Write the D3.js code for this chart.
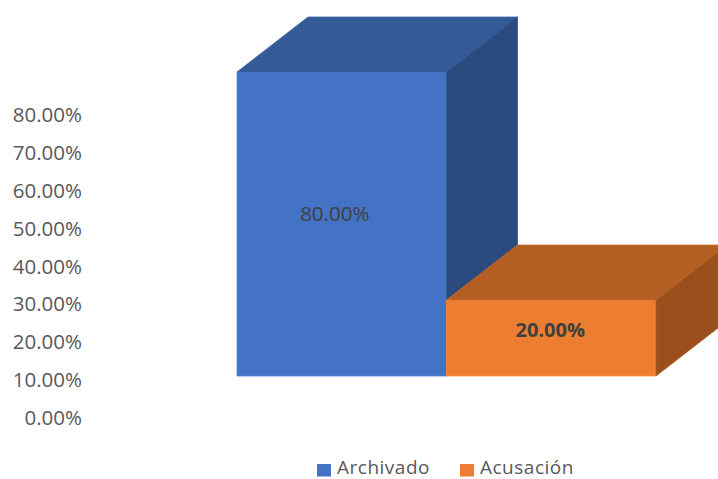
<!DOCTYPE html>
<html>
<head>
<meta charset="utf-8">
<script src="https://cdn.jsdelivr.net/npm/d3@7"></script>
<style>
  body { margin: 0; background: #fff; }
  svg text { font-family: "Open Sans", "Liberation Sans", sans-serif; }
</style>
</head>
<body>
<svg id="chart" width="718" height="479"></svg>
<script>
// data
var categories = ["Archivado", "Acusación"];
var values = [0.80, 0.20];
var tickValues = [0, 0.1, 0.2, 0.3, 0.4, 0.5, 0.6, 0.7, 0.8];
var frontColors = ["#4472C4", "#ED7D31"];
var topColors = ["#345A97", "#B35E22"];
var sideColors = ["#2B4A7E", "#9A4F1D"];

var width = 718, height = 479;
var depthX = 71, depthY = -55; // 3d offset of the back face

var svg = d3.select("#chart");

// bar scales (front face)
var x = d3.scaleBand()
    .domain(categories)
    .range([237, 656])
    .paddingInner(0)
    .paddingOuter(0);

var y = d3.scaleLinear()
    .domain([0, 0.8])
    .range([376, 72]);

// axis sits on the back wall, shifted down a bit
var yAxisScale = d3.scaleLinear()
    .domain([0, 0.8])
    .range([418, 115]);

var fmt = function(d) { return (d * 100).toFixed(2) + "%"; };

// y axis labels
var yAxis = svg.append("g")
    .attr("class", "yaxis")
    .attr("transform", "translate(82,0)")
    .call(d3.axisLeft(yAxisScale)
        .tickValues(tickValues)
        .tickFormat(fmt)
        .tickSize(0)
        .tickPadding(0));
yAxis.select(".domain").remove();
yAxis.selectAll("text")
    .attr("fill", "#595959")
    .style("font-size", "20.5px")
    .style("font-family", "'Open Sans', sans-serif");

var data = categories.map(function(c, i) { return { cat: c, value: values[i], i: i }; });

var bars = svg.selectAll("g.bar")
    .data(data)
    .enter()
    .append("g")
      .attr("class", "bar");

function pts(arr) { return arr.map(function(p) { return p.join(","); }).join(" "); }

// front face
bars.append("polygon")
    .attr("points", function(d) {
        var x0 = x(d.cat), x1 = x(d.cat) + x.bandwidth();
        return pts([[x0, y(d.value)], [x1, y(d.value)], [x1, y(0)], [x0, y(0)]]);
    })
    .attr("fill", function(d) { return frontColors[d.i]; })
    .attr("stroke", function(d) { return d3.color(frontColors[d.i]).brighter(0.4); })
    .attr("stroke-width", 0.8);

// top face
bars.append("polygon")
    .attr("points", function(d) {
        var x0 = x(d.cat), x1 = x(d.cat) + x.bandwidth(), yt = y(d.value);
        return pts([[x0, yt], [x1, yt], [x1 + depthX, yt + depthY], [x0 + depthX, yt + depthY]]);
    })
    .attr("fill", function(d) { return topColors[d.i]; })
    .attr("stroke", function(d) { return d3.color(topColors[d.i]).brighter(0.4); })
    .attr("stroke-width", 0.8);

// side face
bars.append("polygon")
    .attr("points", function(d) {
        var x1 = x(d.cat) + x.bandwidth(), yt = y(d.value), yb = y(0);
        return pts([[x1, yt], [x1 + depthX, yt + depthY], [x1 + depthX, yb + depthY], [x1, yb]]);
    })
    .attr("fill", function(d) { return sideColors[d.i]; })
    .attr("stroke", function(d) { return d3.color(sideColors[d.i]).brighter(0.4); })
    .attr("stroke-width", 0.8);

// value labels
bars.append("text")
    .attr("x", function(d) { return x(d.cat) + x.bandwidth() / 2 - (d.i == 0 ? 7 : 1); })
    .attr("y", function(d) { return d.i == 0 ? y(d.value) + 141 : (y(d.value) + y(0)) / 2 - 9; })
    .attr("text-anchor", "middle")
    .attr("dominant-baseline", "central")
    .attr("fill", "#404040")
    .style("font-size", function(d) { return d.i == 1 ? "20px" : "20.5px"; })
    .style("font-weight", function(d) { return d.i == 1 ? "bold" : "normal"; })
    .text(function(d) { return fmt(d.value); });

// legend
var legend = svg.append("g")
    .attr("class", "legend")
    .attr("transform", "translate(317,473.5)");

var legendX = [0, 143];
var items = legend.selectAll("g")
    .data(categories)
    .enter()
    .append("g")
      .attr("transform", function(d, i) { return "translate(" + legendX[i] + ",0)"; });

items.append("rect")
    .attr("x", 0)
    .attr("y", -9.5)
    .attr("width", 14)
    .attr("height", 12.5)
    .attr("fill", function(d, i) { return frontColors[i]; });

items.append("text")
    .attr("x", 20)
    .attr("y", 0)
    .attr("fill", "#595959")
    .style("font-size", "19px")
    .style("letter-spacing", "0.5px")
    .text(function(d) { return d; });
</script>
</body>
</html>
